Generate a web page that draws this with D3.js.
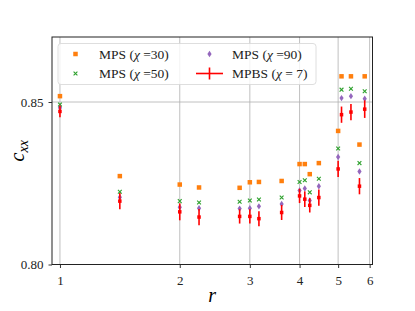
<!DOCTYPE html>
<html>
<head>
<meta charset="utf-8">
<script src="https://cdn.jsdelivr.net/npm/d3@7"></script>
<style>
	body { margin: 0; background: #fff; }
</style>
</head>
<body>
<script>
// lattice distances r
const r_values = [1, 1.414, 2, 2.236, 2.828, 3, 3.162, 3.606, 4, 4.123, 4.243, 4.472, 5, 5.099, 5.385, 5.657, 5.831];
const mps_30 = [0.8518, 0.8272, 0.8246, 0.8237, 0.8236, 0.8253, 0.8254, 0.8257, 0.8309, 0.8309, 0.8278, 0.8312, 0.8411, 0.8579, 0.8579, 0.8369, 0.8579];
const mps_50 = [0.8492, 0.8224, 0.8195, 0.8191, 0.8193, 0.8197, 0.8200, 0.8206, 0.8254, 0.8259, 0.8222, 0.8264, 0.8357, 0.8538, 0.8541, 0.8312, 0.8533];
const mps_90 = [0.8482, 0.8207, 0.8176, 0.8173, 0.8172, 0.8173, 0.8179, 0.8186, 0.8228, 0.8234, 0.8197, 0.8241, 0.8331, 0.8512, 0.8518, 0.8286, 0.8510];
const mpbs_7 = [0.8471, 0.8195, 0.8162, 0.8146, 0.8148, 0.8148, 0.8141, 0.8160, 0.8211, 0.8201, 0.8182, 0.8206, 0.8294, 0.8461, 0.8469, 0.8241, 0.8478];
const mpbs_err = [0.0018, 0.0025, 0.0026, 0.0025, 0.0022, 0.0022, 0.0023, 0.0023, 0.0022, 0.0024, 0.0022, 0.0025, 0.0025, 0.0025, 0.0025, 0.0025, 0.0027];

const x_ticks = [1, 2, 3, 4, 5, 6];
const y_ticks = [0.80, 0.85];
// [prefix, chi value part]
const legend_labels = [['MPS (', ' =30)'], ['MPS (', ' =50)'], ['MPS (', ' =90)'], ['MPBS (', ' = 7)']];

const serif = "'Liberation Serif', 'Times New Roman', 'DejaVu Serif', serif";
const width = 415, height = 311;
const margin = {top: 37, right: 42.5, bottom: 46.5, left: 52};

const svg = d3.select('body').append('svg')
	.attr('width', width)
	.attr('height', height);

const x = d3.scaleLog()
	.domain([0.955, 6.1])
	.range([margin.left, width - margin.right]);

const y = d3.scaleLinear()
	.domain([0.80, 0.87])
	.range([height - margin.bottom, margin.top]);

// grid
const grid = svg.append('g');
grid.selectAll('line.vx')
	.data(x_ticks)
	.enter().append('line')
		.attr('x1', d => x(d)).attr('x2', d => x(d))
		.attr('y1', margin.top).attr('y2', height - margin.bottom)
		.attr('stroke', '#b0b0b0').attr('stroke-width', 0.8);
grid.selectAll('line.hy')
	.data(y_ticks)
	.enter().append('line')
		.attr('x1', margin.left).attr('x2', width - margin.right)
		.attr('y1', d => y(d)).attr('y2', d => y(d))
		.attr('stroke', '#b0b0b0').attr('stroke-width', 0.8);

// axes
const x_axis = svg.append('g')
	.attr('transform', 'translate(0,' + (height - margin.bottom) + ')')
	.call(d3.axisBottom(x).tickValues(x_ticks).tickFormat(d3.format('d')).tickSizeOuter(0).tickSize(3.5));
const y_axis = svg.append('g')
	.attr('transform', 'translate(' + margin.left + ',0)')
	.call(d3.axisLeft(y).tickValues(y_ticks).tickFormat(d3.format('.2f')).tickSizeOuter(0).tickSize(3.5));
[x_axis, y_axis].forEach(function(a)
{
	a.attr('font-family', null);
	a.select('.domain').remove();
	a.selectAll('line').attr('stroke', '#000').attr('stroke-width', 0.8);
	a.selectAll('text').attr('font-size', 13).attr('fill', '#222');
});
x_axis.selectAll('text').attr('dy', '1.05em');
y_axis.selectAll('text').attr('dx', '-0.15em');

// frame
svg.append('rect')
	.attr('x', margin.left).attr('y', margin.top)
	.attr('width', width - margin.left - margin.right)
	.attr('height', height - margin.top - margin.bottom)
	.attr('fill', 'none').attr('stroke', '#222').attr('stroke-width', 1);

const pts = r_values.map((r, i) => ({r: r, a: mps_30[i], b: mps_50[i], c: mps_90[i], m: mpbs_7[i], e: mpbs_err[i]}));

function square(g, cx, cy, s, color)
{
	g.append('rect').attr('x', cx - s / 2).attr('y', cy - s / 2)
		.attr('width', s).attr('height', s).attr('fill', color);
}
function cross(g, cx, cy, s, color)
{
	g.append('path')
		.attr('d', `M${cx - s},${cy - s}L${cx + s},${cy + s}M${cx - s},${cy + s}L${cx + s},${cy - s}`)
		.attr('stroke', color).attr('stroke-width', 1.1).attr('fill', 'none');
}
function diamond(g, cx, cy, color)
{
	g.append('path')
		.attr('d', `M${cx},${cy - 3.2}L${cx + 2.1},${cy}L${cx},${cy + 3.2}L${cx - 2.1},${cy}Z`)
		.attr('fill', color);
}

const marks = svg.append('g');
pts.forEach(function(d)
{
	square(marks, x(d.r), y(d.a), 4.5, '#ff7f0e');
	cross(marks, x(d.r), y(d.b), 1.9, '#2ca02c');
	diamond(marks, x(d.r), y(d.c), '#9467bd');
	marks.append('line')
		.attr('x1', x(d.r)).attr('x2', x(d.r))
		.attr('y1', y(d.m - d.e)).attr('y2', y(d.m + d.e))
		.attr('stroke', 'red').attr('stroke-width', 1.6);
	square(marks, x(d.r), y(d.m), 3.5, 'red');
});

// legend
const lg = svg.append('g');
lg.append('rect')
	.attr('x', 58).attr('y', 43.5).attr('width', 258).attr('height', 41).attr('rx', 3)
	.attr('fill', 'rgba(255,255,255,0.8)').attr('stroke', '#d6d6d6').attr('stroke-width', 0.8);
const leg_pos = [[75.5, 54], [75.5, 73.5], [209.5, 54], [209.5, 73.5]];
square(lg, leg_pos[0][0], leg_pos[0][1], 4.5, '#ff7f0e');
cross(lg, leg_pos[1][0], leg_pos[1][1], 1.9, '#2ca02c');
diamond(lg, leg_pos[2][0], leg_pos[2][1], '#9467bd');
lg.append('line').attr('x1', 196).attr('x2', 223).attr('y1', leg_pos[3][1]).attr('y2', leg_pos[3][1])
	.attr('stroke', 'red').attr('stroke-width', 1.6);
lg.append('line').attr('x1', leg_pos[3][0]).attr('x2', leg_pos[3][0]).attr('y1', leg_pos[3][1] - 6).attr('y2', leg_pos[3][1] + 6)
	.attr('stroke', 'red').attr('stroke-width', 1.6);
const leg_text = lg.selectAll('text.leg')
	.data(legend_labels)
	.enter().append('text')
		.attr('x', (d, i) => i < 2 ? 99 : 232)
		.attr('y', (d, i) => leg_pos[i][1] + 4.5)
		.attr('font-size', 13.5)
		.attr('fill', '#222');
leg_text.append('tspan').text(d => d[0]);
leg_text.append('tspan').attr('font-style', 'italic').text('χ');
leg_text.append('tspan').text(d => d[1]);

// axis labels
svg.append('text')
	.attr('x', (margin.left + width - margin.right) / 2)
	.attr('y', 302)
	.attr('text-anchor', 'middle')
	.attr('font-size', 20).attr('font-style', 'italic')
	.text('r');
svg.append('text')
	.attr('transform', 'translate(24,' + ((margin.top + height - margin.bottom) / 2) + ') rotate(-90)')
	.attr('text-anchor', 'middle')
	.attr('font-size', 20).attr('font-style', 'italic')
	.html('c<tspan font-size="14" dy="4">xx</tspan>');

svg.selectAll('text').style('font-family', serif);
</script>
</body>
</html>
